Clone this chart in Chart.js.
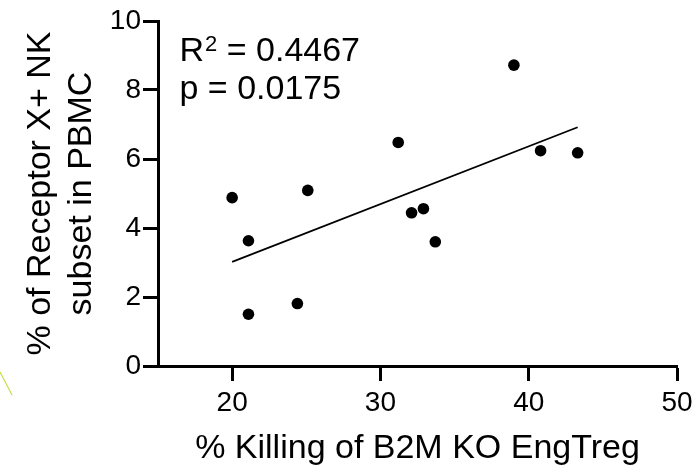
<!DOCTYPE html>
<html>
<head>
<meta charset="utf-8">
<script src="https://cdn.jsdelivr.net/npm/chart.js@4/dist/chart.umd.min.js"></script>
<style>
  html, body { margin: 0; padding: 0; background: #ffffff; }
  #c { display: block; }
</style>
</head>
<body>
<canvas id="c" width="700" height="468"></canvas>
<script>
// ---- data ----
const killingPct = [20.0, 21.1, 21.1, 24.4, 25.1, 31.2, 32.1, 32.9, 33.7, 39.0, 40.8, 43.3];
const receptorPct = [4.88, 3.63, 1.50, 1.81, 5.09, 6.48, 4.44, 4.56, 3.60, 8.72, 6.24, 6.18];
const fitX = [20.0, 43.3];
const fitY = [3.02, 6.92];
const xTickValues = [20, 30, 40, 50];
const yTickValues = [0, 2, 4, 6, 8, 10];
const statsLines = ["R", "2", " = 0.4467", "p = 0.0175"];
const xTitle = "% Killing of B2M KO EngTreg";
const yTitle = ["% of Receptor X+ NK", "subset in PBMC"];

const FONT = "'Liberation Sans', Arial, Helvetica, sans-serif";

const points = killingPct.map((x, i) => ({ x: x, y: receptorPct[i] }));
const fitPts = fitX.map((x, i) => ({ x: x, y: fitY[i] }));

const annotPlugin = {
  id: 'annot',
  afterDraw(chart) {
    const ctx = chart.ctx;
    const a = chart.chartArea;
    ctx.save();
    ctx.fillStyle = '#000';
    ctx.textBaseline = 'alphabetic';
    ctx.textAlign = 'left';
    let x = a.left + 21.5;
    const b1 = a.top + 39.5;
    ctx.font = '34px ' + FONT;
    ctx.fillText(statsLines[0], x, b1);
    x += ctx.measureText(statsLines[0]).width + 1;
    ctx.font = '22px ' + FONT;
    ctx.fillText(statsLines[1], x, b1 - 10);
    x += ctx.measureText(statsLines[1]).width;
    ctx.font = '34px ' + FONT;
    ctx.fillText(statsLines[2], x, b1);
    ctx.fillText(statsLines[3], a.left + 21.5, a.top + 77.5);
    // thin yellow-green stroke at lower left of the picture
    ctx.strokeStyle = '#c9dc4a';
    ctx.lineWidth = 1.2;
    ctx.beginPath();
    ctx.moveTo(0, 372);
    ctx.lineTo(12, 395);
    ctx.stroke();
    ctx.restore();
  }
};

new Chart(document.getElementById('c'), {
  type: 'scatter',
  data: {
    datasets: [
      {
        type: 'line',
        data: fitPts,
        borderColor: '#000',
        borderWidth: 1.8,
        pointRadius: 0,
        fill: false,
        tension: 0
      },
      {
        data: points,
        backgroundColor: '#000',
        borderColor: '#000',
        pointRadius: 5.8,
        pointHoverRadius: 5.8,
        borderWidth: 0
      }
    ]
  },
  options: {
    responsive: false,
    animation: false,
    devicePixelRatio: 1,
    layout: { padding: { left: 0, top: 21, right: 23, bottom: 0 } },
    plugins: { legend: { display: false }, tooltip: { enabled: false } },
    scales: {
      x: {
        type: 'linear',
        min: 15,
        max: 50,
        afterBuildTicks: (s) => { s.ticks = xTickValues.map(v => ({ value: v })); },
        afterFit: (s) => { s.height = 102; },
        border: { display: true, color: '#000', width: 3 },
        grid: { display: true, drawOnChartArea: false, drawTicks: true, tickLength: 15, tickWidth: 3, tickColor: '#000', color: '#000' },
        ticks: { color: '#000', font: { family: FONT, size: 28 }, padding: 5, maxRotation: 0 },
        title: { display: true, text: xTitle, color: '#000', font: { family: FONT, size: 34, lineHeight: 1.0 }, padding: { top: 0, bottom: 2 } }
      },
      y: {
        type: 'linear',
        min: 0,
        max: 10,
        afterBuildTicks: (s) => { s.ticks = yTickValues.map(v => ({ value: v })); },
        afterFit: (s) => { s.width = 158; },
        border: { display: true, color: '#000', width: 3 },
        grid: { display: true, drawOnChartArea: false, drawTicks: true, tickLength: 15, tickWidth: 3, tickColor: '#000', color: '#000' },
        ticks: { color: '#000', font: { family: FONT, size: 28 }, padding: 2 },
        title: { display: true, text: yTitle, color: '#000', font: { family: FONT, size: 34, lineHeight: 1.2 }, padding: { top: 20, bottom: 0 } }
      }
    }
  },
  plugins: [annotPlugin]
});
</script>
</body>
</html>
